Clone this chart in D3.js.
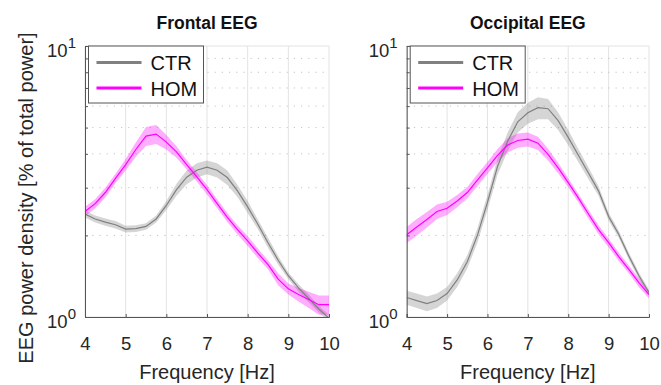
<!DOCTYPE html>
<html lang="en">
    <head>
        <meta charset="utf-8">
        <title>EEG power density</title>
        <script src="https://d3js.org/d3.v7.min.js"></script>
        <style type="text/css">
            body { margin: 0; background: white; }
            svg { font-family: "Liberation Sans", Arial, sans-serif; }
        </style>
    </head>
    <body>
        <svg width="661" height="385"></svg>
        <script type="text/javascript">

            // frequency bins (Hz)
            const freqs = [4, 4.25, 4.5, 4.75, 5, 5.25, 5.5, 5.75, 6, 6.25, 6.5, 6.75, 7,
                           7.25, 7.5, 7.75, 8, 8.25, 8.5, 8.75, 9, 9.25, 9.5, 9.75, 10];

            // Frontal EEG, % of total power
            const frontalCtr    = [2.40, 2.30, 2.24, 2.19, 2.11, 2.12, 2.16, 2.30, 2.58, 2.95, 3.28, 3.48, 3.57,
                                   3.48, 3.27, 2.92, 2.55, 2.20, 1.88, 1.62, 1.42, 1.28, 1.17, 1.07, 0.99];
            const frontalCtrSem = [0.07, 0.07, 0.07, 0.07, 0.06, 0.06, 0.06, 0.07, 0.10, 0.15, 0.19, 0.21, 0.21,
                                   0.21, 0.20, 0.15, 0.13, 0.09, 0.08, 0.06, 0.04, 0.04, 0.04, 0.03, 0.03];
            const frontalHom    = [2.45, 2.62, 2.88, 3.25, 3.65, 4.15, 4.65, 4.73, 4.42, 4.07, 3.65, 3.29, 2.95,
                                   2.62, 2.33, 2.10, 1.91, 1.72, 1.56, 1.38, 1.27, 1.21, 1.16, 1.11, 1.11];
            const frontalHomSem = [0.10, 0.10, 0.12, 0.13, 0.18, 0.25, 0.37, 0.38, 0.27, 0.20, 0.15, 0.13, 0.12,
                                   0.10, 0.09, 0.08, 0.08, 0.07, 0.06, 0.07, 0.06, 0.07, 0.08, 0.09, 0.09];

            // Occipital EEG, % of total power
            const occipitalCtr    = [1.18, 1.15, 1.12, 1.15, 1.22, 1.37, 1.60, 2.00, 2.65, 3.60, 4.45, 5.25, 5.67,
                                     5.92, 5.87, 5.30, 4.60, 3.95, 3.40, 2.92, 2.35, 2.02, 1.68, 1.42, 1.23];
            const occipitalCtrSem = [0.07, 0.07, 0.07, 0.07, 0.07, 0.08, 0.09, 0.12, 0.17, 0.25, 0.35, 0.45, 0.50,
                                     0.55, 0.50, 0.40, 0.30, 0.22, 0.17, 0.12, 0.08, 0.06, 0.05, 0.04, 0.03];
            const occipitalHom    = [2.01, 2.15, 2.29, 2.45, 2.52, 2.68, 2.88, 3.20, 3.55, 3.95, 4.31, 4.48, 4.53,
                                     4.38, 3.98, 3.55, 3.13, 2.75, 2.40, 2.10, 1.88, 1.67, 1.50, 1.34, 1.21];
            const occipitalHomSem = [0.14, 0.15, 0.15, 0.15, 0.14, 0.14, 0.14, 0.16, 0.18, 0.22, 0.26, 0.27, 0.27,
                                     0.25, 0.20, 0.16, 0.12, 0.10, 0.09, 0.08, 0.07, 0.06, 0.05, 0.05, 0.04];

            const groups = ["CTR", "HOM"];
            const titles = ["Frontal EEG", "Occipital EEG"];
            const xTicks = [4, 5, 6, 7, 8, 9, 10];
            const yMajor = [1, 10];
            const yMinor = [2, 3, 4, 5, 6, 7, 8, 9];
            const yMajorLabels = ["0", "1"];   // exponents of 10

            const lineColor = {"CTR": "#808080", "HOM": "#ff00ff"};
            const svg = d3.select("svg");
            const plotTop = 46, plotBottom = 317;

            const panels = [
                {title: titles[0], left: 85, right: 329,
                 series: [{g: "CTR", v: frontalCtr, e: frontalCtrSem}, {g: "HOM", v: frontalHom, e: frontalHomSem}]},
                {title: titles[1], left: 406.7, right: 649,
                 series: [{g: "CTR", v: occipitalCtr, e: occipitalCtrSem}, {g: "HOM", v: occipitalHom, e: occipitalHomSem}]}
            ];

            panels.forEach((p, pi) => {
                const x = d3.scaleLinear().domain([4, 10]).range([p.left, p.right]);
                const y = d3.scaleLog().domain([1, 10]).range([plotBottom, plotTop]);
                const g = svg.append("g");

                // grid
                g.selectAll(".vgrid").data(xTicks).enter().append("line")
                 .attr("x1", d => x(d)).attr("x2", d => x(d))
                 .attr("y1", plotTop).attr("y2", plotBottom)
                 .style("stroke", "#e3e3e3").style("stroke-width", 1);
                g.selectAll(".hgrid").data(yMajor).enter().append("line")
                 .attr("x1", p.left).attr("x2", p.right)
                 .attr("y1", d => y(d)).attr("y2", d => y(d))
                 .style("stroke", "#e3e3e3").style("stroke-width", 1);
                g.selectAll(".mgrid").data(yMinor).enter().append("line")
                 .attr("x1", p.left).attr("x2", p.right)
                 .attr("y1", d => y(d)).attr("y2", d => y(d))
                 .style("stroke", "#c4c4c4").style("stroke-width", 1)
                 .style("stroke-dasharray", "1.2,6");

                // clip
                const clipId = "clip" + pi;
                g.append("clipPath").attr("id", clipId).append("rect")
                 .attr("x", p.left).attr("y", plotTop)
                 .attr("width", p.right - p.left).attr("height", plotBottom - plotTop);
                const plot = g.append("g").attr("clip-path", "url(#" + clipId + ")");

                const area = d3.area()
                               .x((d, i) => x(freqs[i]))
                               .y0(d => y(d.v - d.e))
                               .y1(d => y(d.v + d.e));
                const line = d3.line()
                               .x((d, i) => x(freqs[i]))
                               .y(d => y(d));

                p.series.forEach(s => {
                    const pts = s.v.map((v, i) => ({v: v, e: s.e[i]}));
                    plot.append("path").datum(pts)
                        .attr("d", area)
                        .style("fill", lineColor[s.g])
                        .style("fill-opacity", s.g == "CTR" ? 0.33 : 0.32)
                        .style("stroke", "none");
                });
                p.series.forEach(s => {
                    plot.append("path").datum(s.v)
                        .attr("d", line)
                        .style("fill", "none")
                        .style("stroke", lineColor[s.g])
                        .style("stroke-width", 1.2);
                });

                // axes
                const xAxis = g.append("g")
                               .attr("transform", "translate(0," + plotBottom + ")")
                               .call(d3.axisBottom(x).tickValues(xTicks).tickSize(-3).tickPadding(20).tickFormat(d3.format("d")));
                xAxis.selectAll("text").style("font-size", "18.5px").style("fill", "#262626");

                const yAxis = g.append("g")
                               .attr("transform", "translate(" + p.left + ",0)")
                               .call(d3.axisLeft(y).tickValues(yMajor.concat(yMinor)).tickSize(-3).tickFormat(""));
                [xAxis, yAxis].forEach(a => {
                    a.select(".domain").style("stroke", "#555");
                    a.selectAll(".tick line").style("stroke", "#555");
                });

                const yl = g.selectAll(".ylab").data(yMajor).enter().append("text")
                            .attr("x", p.left - 9)
                            .attr("y", d => y(d) + 11)
                            .attr("text-anchor", "end")
                            .style("fill", "#262626");
                yl.append("tspan").style("font-size", "18.5px").text("10");
                yl.append("tspan").style("font-size", "15px").attr("dy", -9.5)
                  .text((d, i) => yMajorLabels[i]);

                // title and x label
                g.append("text")
                 .attr("x", (p.left + p.right) / 2).attr("y", 29)
                 .attr("text-anchor", "middle")
                 .style("font-size", "17.5px").style("font-weight", "bold")
                 .style("fill", "#111")
                 .text(p.title);
                g.append("text")
                 .attr("x", (p.left + p.right) / 2).attr("y", 379)
                 .attr("text-anchor", "middle")
                 .style("font-size", "20px").style("fill", "#262626")
                 .text("Frequency [Hz]");

                // legend
                const lx = p.left + 3.5, ly = 46;
                const leg = g.append("g");
                leg.append("rect")
                   .attr("x", lx).attr("y", ly).attr("width", 115).attr("height", 57)
                   .style("fill", "white").style("stroke", "#555").style("stroke-width", 1);
                groups.forEach((name, i) => {
                    leg.append("line")
                       .attr("x1", lx + 8).attr("x2", lx + 53)
                       .attr("y1", ly + 16.5 + i * 25.5).attr("y2", ly + 16.5 + i * 25.5)
                       .style("stroke", lineColor[name]).style("stroke-width", 3);
                    leg.append("text")
                       .attr("x", lx + 62).attr("y", ly + 24 + i * 25.5)
                       .style("font-size", "20px").style("fill", "#111")
                       .text(name);
                });
            });

            // y label
            svg.append("text")
               .attr("transform", "translate(33,198) rotate(-90)")
               .attr("text-anchor", "middle")
               .style("font-size", "20px").style("fill", "#262626")
               .text("EEG power density [% of total power]");

        </script>
    </body>
</html>
